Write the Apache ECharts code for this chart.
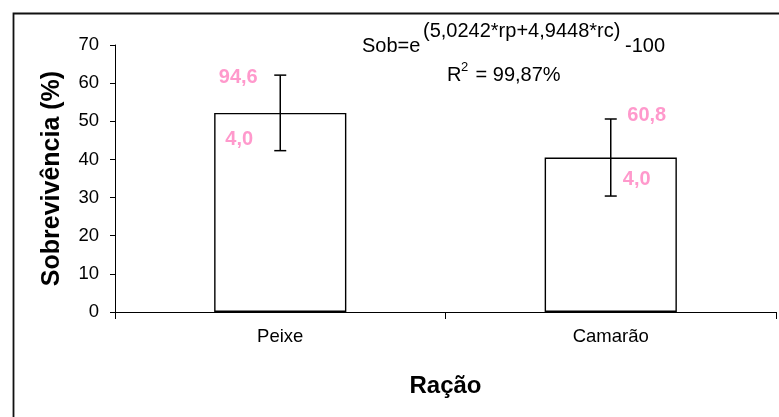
<!DOCTYPE html>
<html>
<head>
<meta charset="utf-8">
<script src="https://cdn.jsdelivr.net/npm/echarts@6/dist/echarts.min.js"></script>
<style>
html,body{margin:0;padding:0;background:#fff;}
#c{width:779px;height:417px;}
</style>
</head>
<body>
<div id="c"></div>
<script>
const categories = ['Peixe', 'Camarão'];
const meanValues = [52.2, 40.5];
const errorValues = [9.9, 10.1];
const upperNotes = ['94,6', '60,8'];
const lowerNotes = ['4,0', '4,0'];
const yTicks = [0, 10, 20, 30, 40, 50, 60, 70];

const FONT = '"Liberation Sans", Arial, sans-serif';
const PINK = '#FF99CC';
// pixel offsets of note labels relative to error bar ends [dxUp, dyUp, dxLow, dyLow]
const noteOffsets = [[-42, 2, -41, -11], [36, -4, 26, -17]];

const chart = echarts.init(document.getElementById('c'), null, {renderer: 'canvas'});

const errData = categories.map((c, i) => [i, meanValues[i], errorValues[i]]);

chart.setOption({
  animation: false,
  backgroundColor: '#fff',
  grid: {left: 115, right: 3, top: 45, bottom: 105, containLabel: false},
  xAxis: {
    type: 'category',
    data: categories,
    boundaryGap: true,
    axisLine: {lineStyle: {color: '#000', width: 1}},
    axisTick: {show: true, length: 7, lineStyle: {color: '#000'}},
    axisLabel: {color: '#000', fontFamily: FONT, fontSize: 18.5, margin: 15},
    name: 'Ração',
    nameLocation: 'middle',
    nameGap: 62,
    nameTextStyle: {color: '#000', fontFamily: FONT, fontSize: 24, fontWeight: 'bold'}
  },
  yAxis: {
    type: 'value',
    min: yTicks[0],
    max: yTicks[yTicks.length - 1],
    interval: yTicks[1] - yTicks[0],
    splitLine: {show: false},
    axisLine: {show: true, lineStyle: {color: '#000', width: 1}},
    axisTick: {show: true, length: 5, lineStyle: {color: '#000'}},
    axisLabel: {color: '#000', fontFamily: FONT, fontSize: 18.5, margin: 16},
    name: 'Sobrevivência (%)',
    nameLocation: 'middle',
    nameGap: 50,
    nameTextStyle: {color: '#000', fontFamily: FONT, fontSize: 25, fontWeight: 'bold'}
  },
  series: [
    {
      type: 'bar',
      data: meanValues,
      barWidth: '40%',
      itemStyle: {color: '#fff', borderColor: '#000', borderWidth: 1.4},
      silent: true
    },
    {
      type: 'custom',
      data: errData,
      encode: {x: 0, y: 1},
      z: 10,
      renderItem: function (params, api) {
        const i = api.value(0);
        const m = api.value(1);
        const e = api.value(2);
        const top = api.coord([i, m + e]);
        const bot = api.coord([i, m - e]);
        const cap = 6;
        const off = noteOffsets[params.dataIndex];
        const ls = {stroke: '#000', lineWidth: 1.5};
        return {
          type: 'group',
          children: [
            {type: 'line', shape: {x1: top[0], y1: top[1], x2: bot[0], y2: bot[1]}, style: ls},
            {type: 'line', shape: {x1: top[0] - cap, y1: top[1], x2: top[0] + cap, y2: top[1]}, style: ls},
            {type: 'line', shape: {x1: bot[0] - cap, y1: bot[1], x2: bot[0] + cap, y2: bot[1]}, style: ls},
            {type: 'text', x: top[0] + off[0], y: top[1] + off[1], style: {
              text: upperNotes[params.dataIndex], fill: PINK, font: 'bold 20px ' + FONT,
              textAlign: 'center', textVerticalAlign: 'middle'}},
            {type: 'text', x: bot[0] + off[2], y: bot[1] + off[3], style: {
              text: lowerNotes[params.dataIndex], fill: PINK, font: 'bold 20px ' + FONT,
              textAlign: 'center', textVerticalAlign: 'middle'}}
          ]
        };
      }
    }
  ],
  graphic: [
    {type: 'rect', left: 11, top: 11, shape: {x: 0, y: 0, width: 1200, height: 1200},
      style: {fill: 'none', stroke: '#111', lineWidth: 1.8}, silent: true, z: -1},
    {type: 'text', x: 362, y: 46, style: {text: 'Sob=e', fill: '#000', font: '20px ' + FONT, textVerticalAlign: 'middle'}},
    {type: 'text', x: 423, y: 31, style: {text: '(5,0242*rp+4,9448*rc)', fill: '#000', font: '20px ' + FONT, textVerticalAlign: 'middle'}},
    {type: 'text', x: 625, y: 46, style: {text: '-100', fill: '#000', font: '20px ' + FONT, textVerticalAlign: 'middle'}},
    {type: 'text', x: 447, y: 75, style: {text: 'R', fill: '#000', font: '20px ' + FONT, textVerticalAlign: 'middle'}},
    {type: 'text', x: 461, y: 67, style: {text: '2', fill: '#000', font: '13px ' + FONT, textVerticalAlign: 'middle'}},
    {type: 'text', x: 470, y: 75, style: {text: ' = 99,87%', fill: '#000', font: '20px ' + FONT, textVerticalAlign: 'middle'}}
  ]
});
</script>
</body>
</html>
